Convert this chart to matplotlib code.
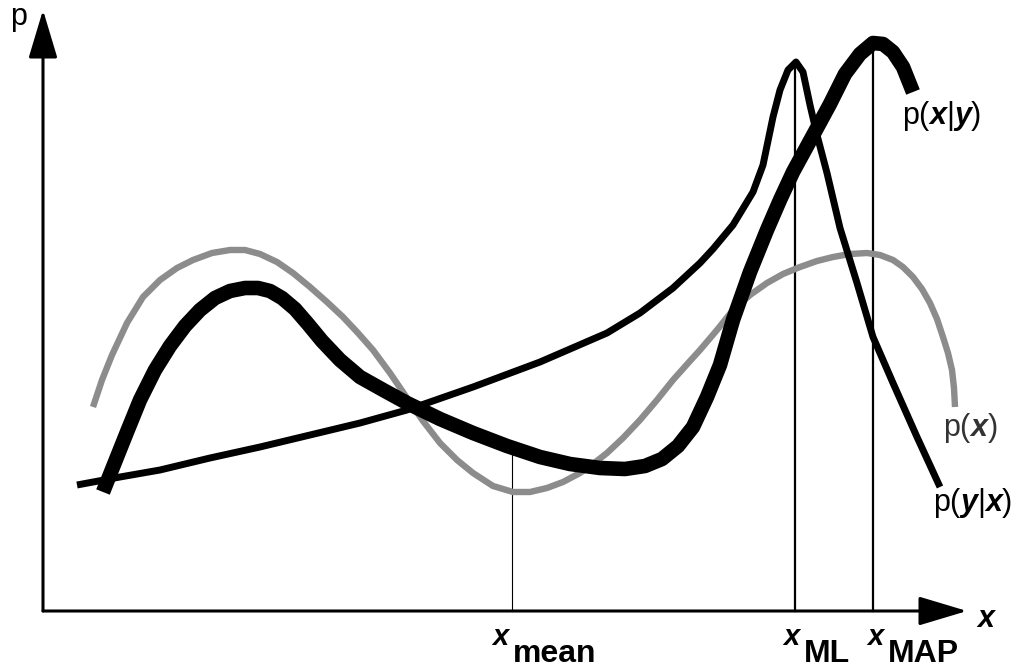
import matplotlib
matplotlib.use('Agg')
from matplotlib import pyplot as plt

plt.rcParams['font.family'] = ['Liberation Sans', 'DejaVu Sans']
plt.rcParams['mathtext.fontset'] = 'custom'
plt.rcParams['mathtext.rm'] = 'Liberation Sans'
plt.rcParams['mathtext.bf'] = 'Liberation Sans:bold'
plt.rcParams['mathtext.it'] = 'Liberation Sans:italic'
plt.rcParams['mathtext.bfit'] = 'Liberation Sans:italic:bold'

# prior p(x), gray curve
prior_x = [50, 59, 69, 84, 100, 117, 134, 150, 169, 187, 202, 217, 234, 250, 267, 284,
           300, 315, 330, 347, 364, 380, 397, 414, 430, 450, 470, 487, 504, 520, 537,
           550, 564, 580, 597, 614, 630, 647, 657, 674, 690, 707, 724, 740, 757, 774,
           790, 807, 824, 837, 850, 860, 870, 879, 887, 894, 900, 905, 909, 911, 912]
prior_p = [204, 231, 256, 288, 314, 331, 343, 351, 358, 361, 361, 357, 349, 338, 324, 309,
           294, 278, 261, 238, 213, 190, 168, 151, 138, 125, 119, 119, 123, 129, 138,
           147, 158, 173, 191, 211, 231, 250, 261, 281, 301, 316, 328, 337, 344, 350,
           354, 357, 358, 356, 351, 344, 334, 322, 308, 292, 274, 258, 241, 223, 204]

# likelihood p(y|x)
like_x = [34, 77, 117, 167, 217, 267, 317, 364, 430, 497, 564, 597, 630, 657, 670, 690,
          710, 720, 730, 737, 745, 753, 760, 767, 774, 784, 797, 814, 830, 850, 874, 897]
like_p = [126, 134, 141, 153, 164, 176, 188, 201, 224, 249, 278, 298, 323, 348, 362, 386,
          419, 446, 494, 521, 541, 549, 539, 506, 476, 438, 383, 328, 274, 228, 174, 124]

# posterior p(x|y), thick curve
post_x = [60, 72, 84, 97, 112, 127, 142, 157, 172, 187, 202, 215, 227, 239, 252, 265,
          279, 297, 317, 342, 364, 397, 430, 464, 497, 527, 557, 582, 602, 619, 635,
          650, 664, 677, 690, 707, 724, 737, 750, 762, 774, 787, 802, 817, 830, 840,
          850, 860, 870]
post_p = [119, 149, 179, 211, 241, 265, 285, 301, 313, 320, 323, 323, 320, 313, 302, 287,
          270, 251, 234, 220, 208, 192, 178, 165, 154, 147, 143, 142, 145, 152, 165,
          184, 214, 246, 291, 339, 381, 411, 439, 461, 483, 507, 537, 557, 568, 567,
          559, 544, 519]

x_mean, p_mean = 469, 158
x_ml, p_ml = 752, 549
x_map, p_map = 830, 568

fig = plt.figure(figsize=(10.2, 6.69), dpi=100)
ax = fig.add_axes([0, 0, 1, 1])
ax.set_xlim(-43, 977)
ax.set_ylim(-58, 611)
ax.axis('off')

# markers for mean, ML, MAP
ax.plot([x_mean, x_mean], [0, p_mean], c='black', lw=0.8)
ax.plot([x_ml, x_ml], [0, p_ml], c='black', lw=1.6)
ax.plot([x_map, x_map], [0, p_map], c='black', lw=1.6)

ax.plot(prior_x, prior_p, c='#8c8c8c', lw=4.6, solid_capstyle='butt', solid_joinstyle='round')
ax.plot(like_x, like_p, c='black', lw=5, solid_capstyle='butt', solid_joinstyle='round')
ax.plot(post_x, post_p, c='black', lw=10.5, solid_capstyle='butt', solid_joinstyle='round')

# axes with arrows
arrow = dict(arrowstyle='-|>,head_length=3.0,head_width=0.9', color='black', lw=2.2,
             mutation_scale=10, shrinkA=0, shrinkB=0)
ax.annotate('', xy=(0, 601), xytext=(0, 0), arrowprops=arrow)
ax.annotate('', xy=(924, 0), xytext=(0, 0), arrowprops=arrow)

ax.text(-33, 586, 'p', fontsize=22, ha='left', va='baseline')
ax.text(934, -16, 'x', fontsize=22, fontweight='bold', fontstyle='italic',
        ha='left', va='baseline')

for xl, sub in [(449, 'mean'), (740, 'ML'), (824, 'MAP')]:
    ax.text(xl, -34, 'x', fontsize=21, fontweight='bold', fontstyle='italic',
            ha='left', va='baseline')
    ax.text(xl + 21, -51, sub, fontsize=23, fontweight='bold', ha='left', va='baseline')

ax.text(859, 495, r'$\mathrm{p(}\mathbfit{x}\mathrm{|}\mathbfit{y}\mathrm{)}$',
        fontsize=22, ha='left', va='center')
ax.text(900, 183, r'$\mathrm{p(}\mathbfit{x}\mathrm{)}$',
        fontsize=22, ha='left', va='center', color='#333333')
ax.text(890, 108, r'$\mathrm{p(}\mathbfit{y}\mathrm{|}\mathbfit{x}\mathrm{)}$',
        fontsize=22, ha='left', va='center')

fig.savefig('out.png', dpi=100)
